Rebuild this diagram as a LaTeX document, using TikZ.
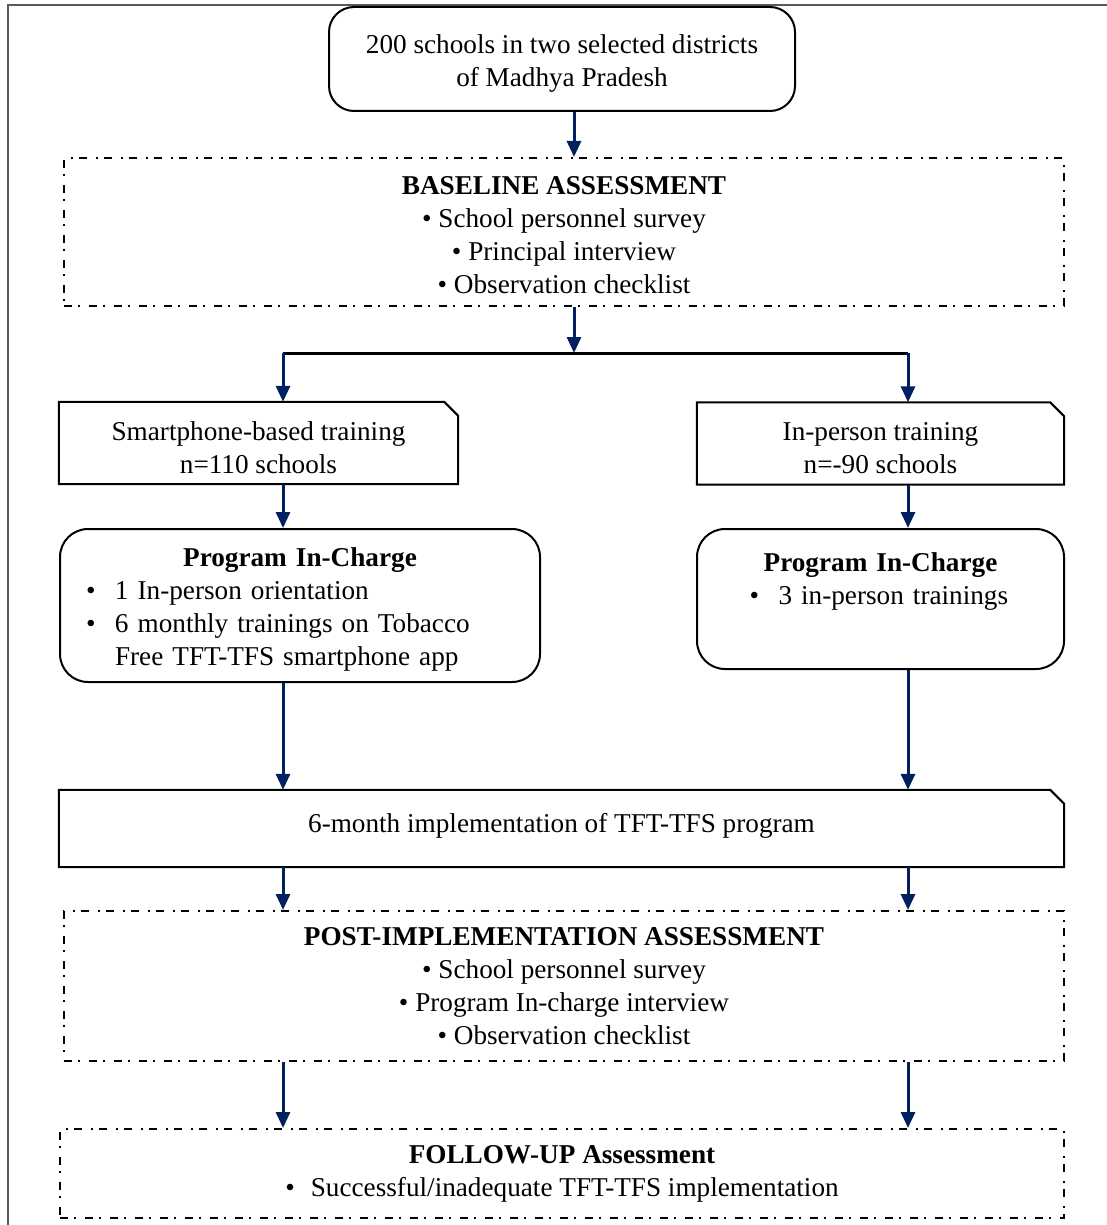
\documentclass[tikz,border=0pt]{standalone}
\usepackage{fontspec}
\setmainfont{Liberation Serif}
\usetikzlibrary{arrows.meta, positioning}
\definecolor{ArrowColor}{RGB}{0,32,96}
\definecolor{FrameColor}{RGB}{90,90,90}
\newcommand{\bul}{\makebox[29pt][l]{\textbullet}}
\tikzset{
  startbox/.style={draw, line width=2pt, rounded corners=25pt, minimum width=466pt, minimum height=104pt, inner sep=0pt},
  assessbox/.style={draw, line width=2pt, dash pattern=on 8pt off 6pt on 2pt off 9pt, minimum height=148pt, inner sep=0pt},
  trainbox/.style={minimum height=82pt, inner sep=0pt},
  chargebox/.style={draw, line width=2pt, rounded corners=28pt, inner sep=0pt},
  boxtext/.style={align=center, inner sep=0pt},
  flow/.style={ArrowColor, line width=3pt, -{Triangle[width=14pt,length=16pt]}},
  branch/.style={black, line width=3pt}
}
\begin{document}
\begin{tikzpicture}[x=1pt, y=-1pt, font=\fontsize{27.2}{33}\selectfont]
  \useasboundingbox (0,0) rectangle (1106,1225);
  % outer frame
  \draw[FrameColor, line width=1.5pt] (8,1240) -- (8,5) -- (1120,5);

  % boxes
  \node[startbox] (top) at (562,59) {};
  \node[assessbox, minimum width=1000pt] (base) at (564,232) {};
  \node[trainbox, minimum width=399pt] (smart) at (258.5,443) {};
  \node[trainbox, minimum width=367pt] (inperson) at (880.5,443.5) {};
  \node[chargebox, minimum width=480pt, minimum height=153pt] (pic1) at (300,605.5) {};
  \node[chargebox, minimum width=367pt, minimum height=140pt] (pic2) at (880.5,599) {};
  \node[trainbox, minimum width=1005pt, minimum height=77pt] (impl) at (561.5,828.5) {};
  \node[assessbox, minimum width=1000pt, minimum height=150pt] (post) at (564,986) {};
  \node[assessbox, minimum width=1004pt, minimum height=89pt] (follow) at (562,1173.5) {};

  % snipped corners
  \foreach \n in {smart,inperson,impl}
    \draw[line width=2pt, line join=miter] (\n.north west) -- ([xshift=-14pt]\n.north east)
      -- ([yshift=-14pt]\n.north east) -- (\n.south east) -- (\n.south west) -- cycle;

  % texts
  \node[boxtext] (topText) at ([yshift=-5pt]top.center) {200 schools in two selected districts\\of Madhya Pradesh};
  \node[boxtext] (baseText) at ([yshift=-3pt]base.center)
    {\textbf{BASELINE ASSESSMENT}\\\textbullet\ School personnel survey\\\textbullet\ Principal interview\\\textbullet\ Observation checklist};
  \node[boxtext] (smartText) at ([yshift=-5pt]smart.center) {Smartphone-based training\\n=110 schools};
  \node[boxtext] (inpersonText) at ([yshift=-5pt]inperson.center) {In-person training\\n=-90 schools};
  \node[text width=428pt, inner sep=0pt] (pic1Text) at ([yshift=-4pt]pic1.center)
    {\parindent=0pt{\centering\textbf{Program In-Charge}\par}\raggedright
     \bul 1 In-person orientation\\\bul 6 monthly trainings on Tobacco\\\hspace*{29pt}Free TFT-TFS smartphone app};
  \node[below=24pt of pic2.north, text width=262pt, inner sep=0pt] (pic2Text)
    {\parindent=0pt{\centering\textbf{Program In-Charge}\par}\raggedright\bul 3 in-person trainings};
  \node[boxtext] (implText) at ([yshift=3pt]impl.center) {6-month implementation of TFT-TFS program};
  \node[boxtext] (postText) at ([yshift=-0.5pt]post.center)
    {\textbf{POST-IMPLEMENTATION ASSESSMENT}\\\textbullet\ School personnel survey\\\textbullet\ Program In-charge interview\\\textbullet\ Observation checklist};
  \node[boxtext] (followText) at (follow.center)
    {\textbf{FOLLOW-UP Assessment}\\\textbullet\hspace{16pt}Successful/inadequate TFT-TFS implementation};

  % connectors
  \coordinate (colL) at (283,0);
  \coordinate (colR) at (908,0);
  \coordinate (split) at (574,353);
  \draw[flow] (top.south -| split) -- (base.north -| split);
  \draw[flow] (base.south -| split) -- (split);
  \draw[branch] (split -| colL) -- (split -| colR);
  \draw[flow] (split -| colL) -- (smart.north -| colL);
  \draw[flow] (split -| colR) -- (inperson.north -| colR);
  \draw[flow] (smart.south -| colL) -- (pic1.north -| colL);
  \draw[flow] (inperson.south -| colR) -- (pic2.north -| colR);
  \draw[flow] (pic1.south -| colL) -- (impl.north -| colL);
  \draw[flow] (pic2.south -| colR) -- (impl.north -| colR);
  \foreach \a/\b in {impl/post, post/follow} {
    \draw[flow] (\a.south -| colL) -- (\b.north -| colL);
    \draw[flow] (\a.south -| colR) -- (\b.north -| colR);
  }
\end{tikzpicture}
\end{document}
